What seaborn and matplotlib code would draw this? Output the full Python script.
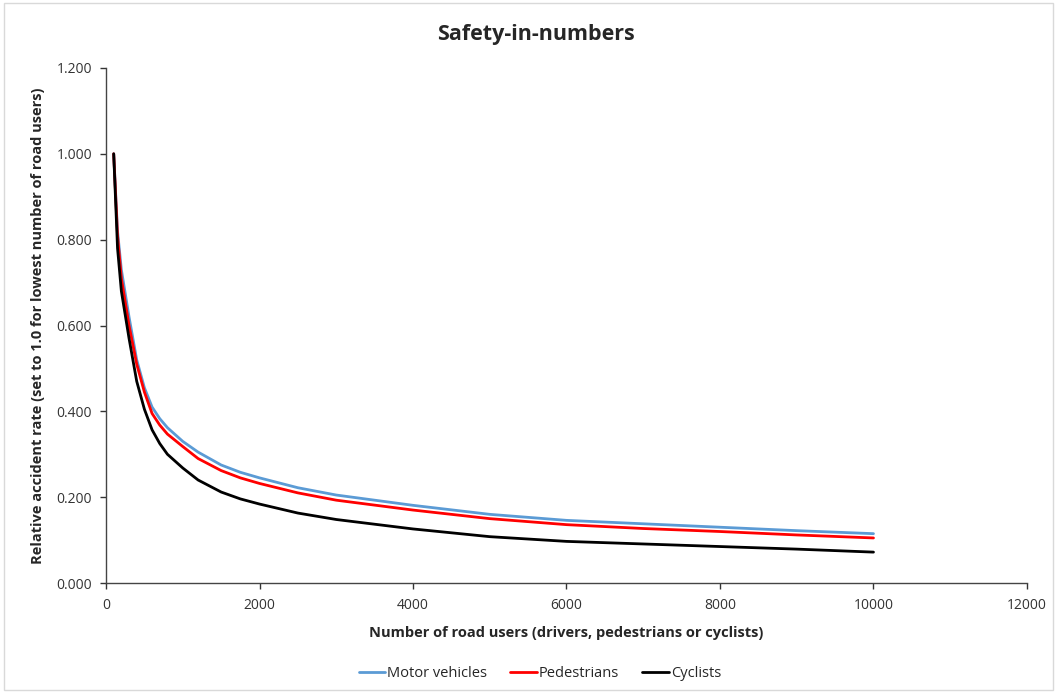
import matplotlib.pyplot as plt
import matplotlib.ticker as mticker
import numpy as np
import pandas as pd
import seaborn as sns

# number of road users
users = [100, 150, 200, 300, 400, 500, 600, 700, 800, 1000, 1200, 1500, 1750,
         2000, 2500, 3000, 4000, 5000, 6000, 7000, 8000, 9000, 10000]

motor = [1.0, 0.82, 0.73, 0.62, 0.52, 0.455, 0.41, 0.383, 0.362, 0.33, 0.305,
         0.275, 0.258, 0.245, 0.222, 0.205, 0.181, 0.160, 0.146, 0.138, 0.130,
         0.122, 0.115]
pedestrians = [1.0, 0.81, 0.71, 0.60, 0.51, 0.445, 0.395, 0.368, 0.347, 0.318, 0.29,
               0.262, 0.245, 0.232, 0.21, 0.193, 0.170, 0.150, 0.136, 0.127,
               0.120, 0.112, 0.105]
cyclists = [1.0, 0.78, 0.68, 0.57, 0.47, 0.405, 0.357, 0.325, 0.30, 0.268, 0.24,
            0.212, 0.196, 0.184, 0.163, 0.148, 0.126, 0.108, 0.097, 0.091,
            0.085, 0.079, 0.072]

series_names = ['Motor vehicles', 'Pedestrians', 'Cyclists']
colors = {'Motor vehicles': '#5b9bd5', 'Pedestrians': '#ff0000', 'Cyclists': '#000000'}

df = pd.DataFrame({'users': users * 3,
                   'rate': motor + pedestrians + cyclists,
                   'group': np.repeat(series_names, len(users))})

sns.set_style('white')
plt.rcParams['font.family'] = ['Open Sans', 'DejaVu Sans']

fig = plt.figure(figsize=(10.57, 6.93), dpi=100)
ax = fig.add_axes([0.1003, 0.1587, 0.8713, 0.7432])

sns.lineplot(data=df, x='users', y='rate', hue='group', palette=colors,
             hue_order=series_names, linewidth=2, ax=ax)

ax.set_xlim(0, 12000)
ax.set_ylim(0, 1.2)
ax.set_xticks(np.arange(0, 12001, 2000))
ax.set_yticks(np.arange(0, 1.21, 0.2))
ax.yaxis.set_major_formatter(mticker.FormatStrFormatter('%.3f'))
ax.tick_params(axis='both', labelsize=10, colors='#333333', direction='out',
               length=4, width=1, left=True, bottom=True)
ax.tick_params(axis='x', pad=7)
ax.tick_params(axis='y', pad=6)
for s in ['top', 'right']:
    ax.spines[s].set_visible(False)
for s in ['left', 'bottom']:
    ax.spines[s].set_color('#444444')
    ax.spines[s].set_linewidth(1)

ax.set_title('Safety-in-numbers', fontsize=15.5, fontweight='bold', pad=20, x=0.467)
ax.set_xlabel('Number of road users (drivers, pedestrians or cyclists)',
              fontsize=10.5, fontweight='bold', labelpad=9)
ax.set_ylabel('Relative accident rate (set to 1.0 for lowest number of road users)',
              fontsize=10.5, fontweight='bold', labelpad=8)

ax.legend(loc='upper center', bbox_to_anchor=(0.471, -0.135), ncol=3, frameon=False,
          fontsize=10.5, handlelength=1.8, handletextpad=0.15, columnspacing=1.6)

fig.patches.append(plt.Rectangle((0.004, 0.004), 0.992, 0.992, transform=fig.transFigure,
                                 fill=False, edgecolor='#d9d9d9', linewidth=1))

fig.savefig('out.png', dpi=100)
